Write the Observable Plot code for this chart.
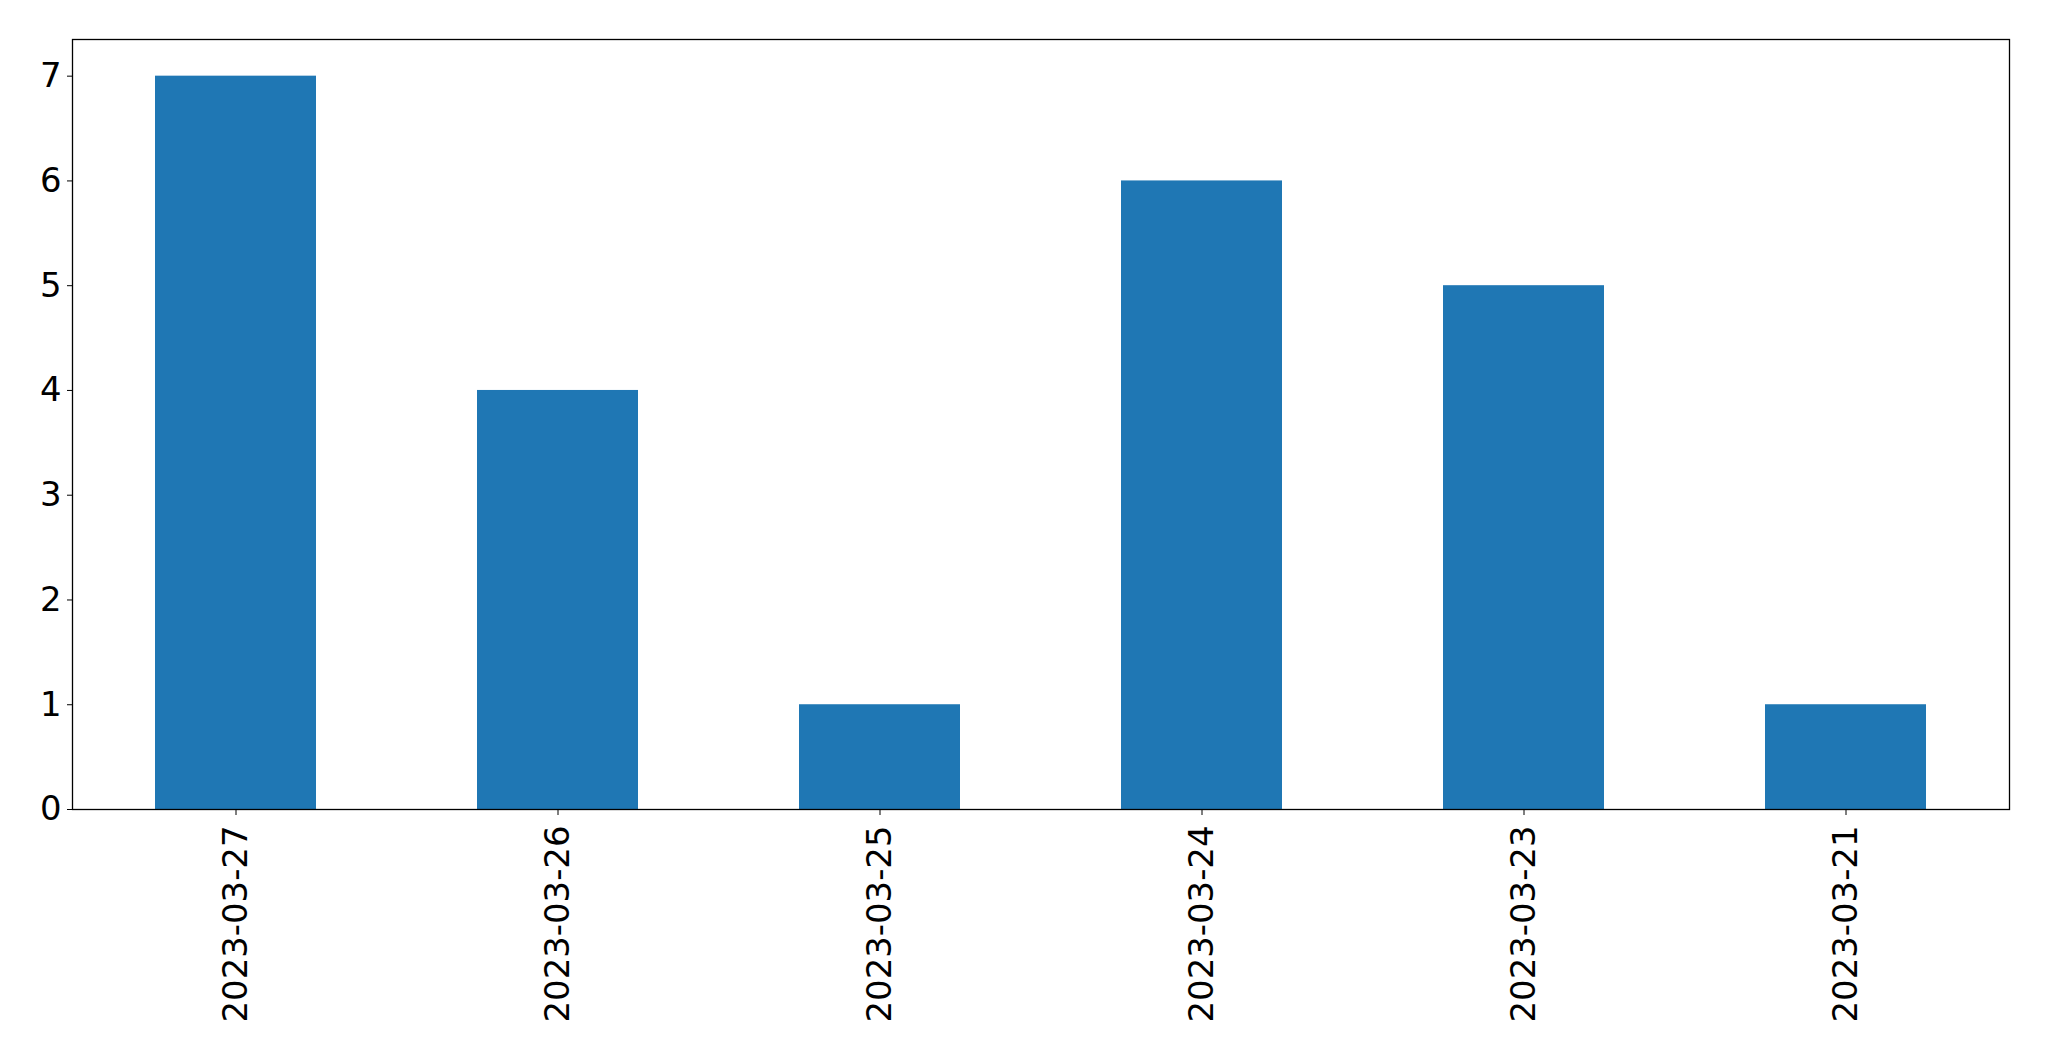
<!DOCTYPE html>
<html>
<head>
<meta charset="utf-8">
<script src="https://cdn.jsdelivr.net/npm/d3@7"></script>
<script src="https://cdn.jsdelivr.net/npm/@observablehq/plot@0.6"></script>
<style>
  html, body { margin: 0; padding: 0; background: #fff; }
  svg { display: block; }
</style>
</head>
<body>
<div id="chart"></div>
<script>
const dates = ["2023-03-27", "2023-03-26", "2023-03-25", "2023-03-24", "2023-03-23", "2023-03-21"];
const counts = [7, 4, 1, 6, 5, 1];
const yTicks = [0, 1, 2, 3, 4, 5, 6, 7];

const data = dates.map((d, i) => ({date: d, count: counts[i]}));

const chart = Plot.plot({
  width: 2049,
  height: 1061,
  marginLeft: 72,
  marginTop: 39,
  marginRight: 40,
  marginBottom: 252,
  style: {fontFamily: "DejaVu Sans", fontSize: "33.9px", color: "#000", background: "#fff"},
  x: {domain: dates, paddingInner: 0.5, paddingOuter: 0.25, label: null},
  y: {domain: [0, 7.35], label: null},
  marks: [
    Plot.barY(data, {x: "date", y: "count", fill: "#1f77b4"}),
    Plot.frame({stroke: "#000", strokeWidth: 1.3}),
    Plot.axisY({ticks: yTicks, tickSize: 5, tickPadding: 6, fontSize: 33.9, label: null, tickFormat: d3.format("d")}),
    Plot.axisX({tickSize: 6, tickPadding: 10, tickRotate: -90, fontSize: 33.9, label: null})
  ]
});
document.getElementById("chart").appendChild(chart);
</script>
</body>
</html>
